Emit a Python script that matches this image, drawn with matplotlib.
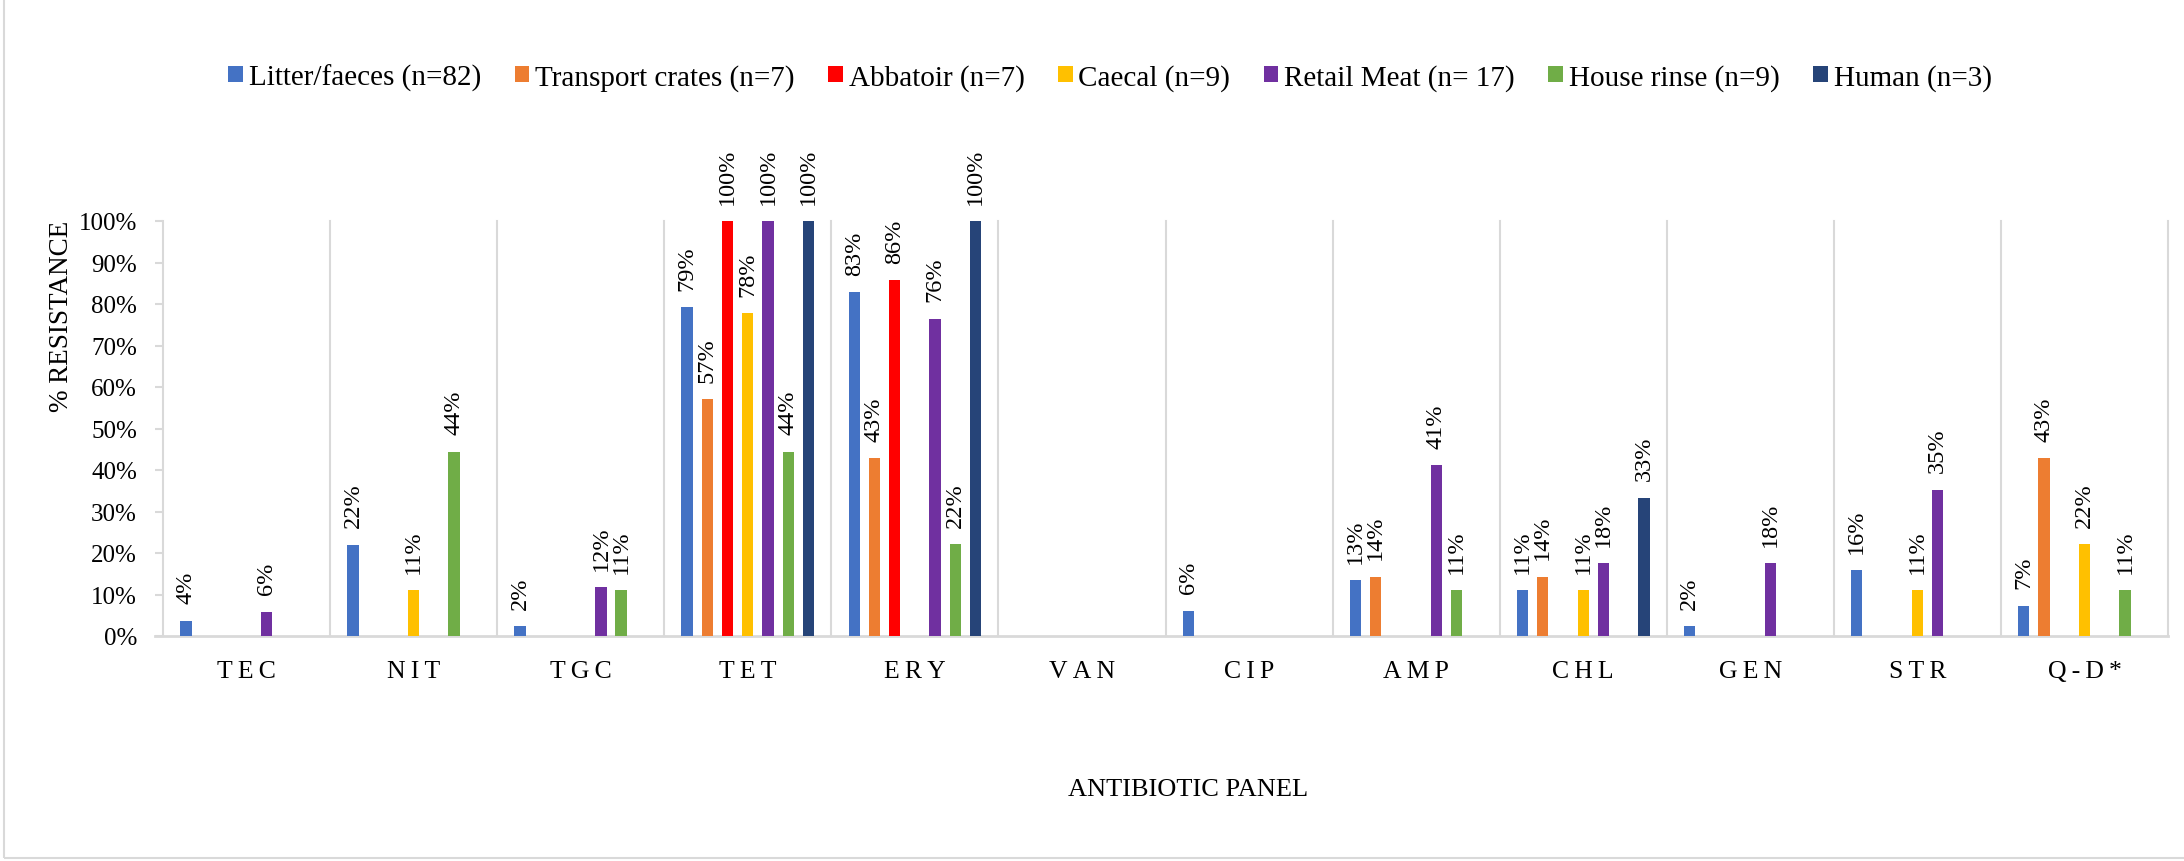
import matplotlib.pyplot as plt
import numpy as np
from matplotlib.patches import Patch, Rectangle
from matplotlib.ticker import PercentFormatter

plt.rcParams['font.family'] = ['Liberation Serif', 'DejaVu Serif']

# --- データ（% 耐性） ---
antibiotics = ['TEC', 'NIT', 'TGC', 'TET', 'ERY', 'VAN', 'CIP', 'AMP', 'CHL', 'GEN', 'STR', 'Q-D*']

series_names = ['Litter/faeces (n=82)', 'Transport crates (n=7)', 'Abbatoir (n=7)',
                'Caecal (n=9)', 'Retail Meat (n= 17)', 'House rinse (n=9)', 'Human (n=3)']

litter    = [3.7, 22.0, 2.4, 79.3, 82.9, 0, 6.1, 13.4, 11.0, 2.4, 15.9, 7.3]
transport = [0, 0, 0, 57.1, 42.9, 0, 0, 14.3, 14.3, 0, 0, 42.9]
abbatoir  = [0, 0, 0, 100, 85.7, 0, 0, 0, 0, 0, 0, 0]
caecal    = [0, 11.1, 0, 77.8, 0, 0, 0, 0, 11.1, 0, 11.1, 22.2]
retail    = [5.9, 0, 11.8, 100, 76.5, 0, 0, 41.2, 17.6, 17.6, 35.3, 0]
house     = [0, 44.4, 11.1, 44.4, 22.2, 0, 0, 11.1, 0, 0, 0, 11.1]
human     = [0, 0, 0, 100, 100, 0, 0, 0, 33.3, 0, 0, 0]

colors = ['#4472C4', '#ED7D31', '#FF0000', '#FFC000', '#7030A0', '#70AD47', '#264478']

all_series = [litter, transport, abbatoir, caecal, retail, house, human]

# --- 図のレイアウト（ピクセル基準） ---
W, H = 2184, 862
fig = plt.figure(figsize=(W / 100, H / 100), dpi=100)
ax = fig.add_axes([163 / W, (H - 637) / H, 2005 / W, (637 - 222) / H])

grid_c = '#D9D9D9'
x = np.arange(len(antibiotics))
pitch = 0.121
bar_w = 0.068

for i, (vals, name, c) in enumerate(zip(all_series, series_names, colors)):
    pos = x + (i - 3) * pitch
    v = np.array(vals) / 100.0
    ax.bar(pos, v, width=bar_w, color=c, label=name, zorder=3)
    for px, val in zip(pos, vals):
        if val > 0:
            ax.annotate(f'{val:.0f}%', (px, val / 100.0), xytext=(0, 12.5),
                        textcoords='offset points', rotation=90,
                        ha='center', va='bottom', fontsize=17.5)

# カテゴリ境界の縦線
for b in np.arange(-0.5, len(antibiotics), 1.0):
    ax.plot([b, b], [0, 1], color=grid_c, lw=1.5, zorder=1, clip_on=False)
ax.plot([-0.5 - 8 / 167, len(antibiotics) - 0.5], [0, 0], color=grid_c, lw=2,
        zorder=2, clip_on=False)

ax.set_xlim(-0.5, len(antibiotics) - 0.5)
ax.set_ylim(0, 1)
ax.set_yticks(np.arange(0, 1.01, 0.1))
ax.yaxis.set_major_formatter(PercentFormatter(1.0, decimals=0))
ax.tick_params(axis='y', labelsize=18, length=5.8, width=1.5, color=grid_c, pad=13)
ax.set_xticks(x)
ax.set_xticklabels(['\u2009'.join(a) for a in antibiotics], fontsize=18.5)
ax.tick_params(axis='x', length=0, pad=17)
for s in ax.spines.values():
    s.set_visible(False)

fig.text(62 / W, 1 - 316 / H, '% RESISTANCE', rotation=90, ha='center', va='center', fontsize=19.5)
fig.text(1188 / W, 1 - 790 / H, 'ANTIBIOTIC PANEL', ha='center', va='center', fontsize=19)

handles = [Patch(facecolor=c, label=n) for c, n in zip(colors, series_names)]
fig.legend(handles=handles, loc='center', bbox_to_anchor=(1110 / W, 1 - 78 / H), ncol=7,
           frameon=False, fontsize=21, handlelength=0.5, handleheight=0.5,
           handletextpad=0.2, columnspacing=1.15)

# 外枠
fig.patches.append(Rectangle((4 / W, 3 / H), 1.2, 1.2, transform=fig.transFigure,
                             fill=False, edgecolor=grid_c, lw=1.5))

fig.savefig('out.png', dpi=100)
